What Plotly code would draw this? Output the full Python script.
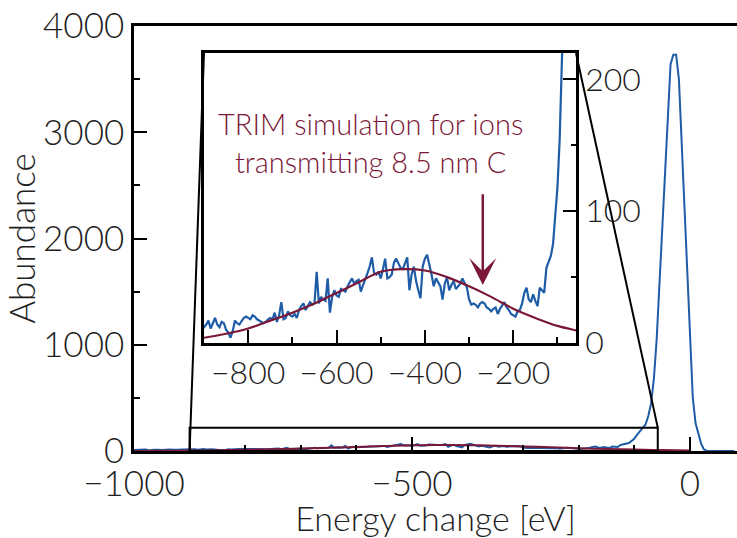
import plotly.graph_objects as go

# ---------------- data ----------------
# measured spectrum, 5 eV bins starting at -1000 eV
abund_a = [9, 12, 8, 11, 14, 10, 7, 12, 15, 11, 9, 13, 10, 14, 12, 8, 11, 13, 15, 10]          # -1000..-905
abund_b = [12, 14, 17, 11, 15, 19, 14, 12, 16, 15, 10, 8, 4, 9, 17, 15, 14, 17, 19, 20]        # -900..-805
abund_c = [19, 18, 21, 20, 18, 17, 16, 15, 16, 18, 19, 18, 23, 16, 21, 31, 18, 19, 24, 21]     # -800..-705
abund_d = [20, 22, 19, 25, 28, 30, 25, 28, 31, 29, 30, 54, 30, 35, 33, 32, 49, 23, 35, 40]     # -700..-605
abund_e = [36, 35, 41, 40, 39, 43, 46, 49, 45, 47, 48, 39, 44, 48, 53, 58, 65, 53, 52, 54]     # -600..-505
abund_f = [49, 56, 64, 49, 50, 52, 61, 64, 60, 57, 56, 60, 65, 40, 52, 58, 47, 40, 34, 58]     # -500..-405
abund_g = [64, 67, 60, 52, 43, 49, 46, 43, 33, 45, 50, 40, 44, 47, 41, 43, 45, 49, 46, 42]     # -400..-305
abund_h = [33, 29, 30, 29, 27, 30, 31, 30, 27, 26, 24, 26, 27, 22, 26, 29, 31, 27, 25, 22]     # -300..-205
abund_i = [21, 20, 24, 25, 30, 38, 42, 33, 31, 37, 32, 28, 42, 40, 38, 57, 62, 66, 75, 95]     # -200..-105
abund_j = [118, 154, 190, 218, 250, 330, 450, 680, 1050, 1560, 2080, 2650, 3200, 3640,
           3730, 3730, 3500, 2880, 2200, 1600]                                                 # -100..-5
abund_k = [1000, 500, 260, 150, 70, 15, 3, 0, 0, 0, 0, 0, 0, 0, 0, 0, 0]                       # 0..80

abundance = (abund_a + abund_b + abund_c + abund_d + abund_e + abund_f + abund_g
             + abund_h + abund_i + abund_j + abund_k)
energy = [-1000 + 5 * i for i in range(len(abundance))]

# TRIM simulation
trim_energy = [-1000, -950, -900, -850, -800, -750, -700, -650, -600, -550, -500,
               -450, -400, -350, -300, -250, -200, -150, -100, -50, 0]
trim_value = [1, 2, 4, 7, 11, 17, 23, 30, 38, 46, 54, 56, 55, 50, 43, 35, 26, 19, 13, 9, 5]

main_xticks = [-1000, -500, 0]
main_yticks = [0, 1000, 2000, 3000, 4000]
inset_xticks = [-800, -600, -400, -200]
inset_yticks = [0, 100, 200]

# ---------------- style ----------------
BLUE = "#1f5ca8"
MAROON = "#7b1838"
TXT = "#1e1e1e"
FONT = "Lato"
WEIGHT = 300

W, H = 737, 538
ML, MR, MT, MB = 134, 0, 26, 87
main_xrange = [-1000, 84.5]
main_yrange = [0, 4000]
inset_xrange = [-900, -58]
inset_yrange = [0, 220]
inset_xdom = [0.1161, 0.733]
inset_ydom = [0.2541, 0.9365]

fig = go.Figure()

fig.add_trace(go.Scatter(x=energy, y=abundance, mode="lines",
                         line=dict(color=BLUE, width=2), xaxis="x", yaxis="y",
                         showlegend=False))
fig.add_trace(go.Scatter(x=trim_energy, y=trim_value, mode="lines",
                         line=dict(color=MAROON, width=2, shape="spline"),
                         xaxis="x", yaxis="y", showlegend=False))
fig.add_trace(go.Scatter(x=energy, y=abundance, mode="lines",
                         line=dict(color=BLUE, width=2.2), xaxis="x2", yaxis="y2",
                         showlegend=False))
fig.add_trace(go.Scatter(x=trim_energy, y=trim_value, mode="lines",
                         line=dict(color=MAROON, width=2.2, shape="spline"),
                         xaxis="x2", yaxis="y2", showlegend=False))

axis_common = dict(showgrid=False, zeroline=False, linecolor="black",
                   tickcolor="black", ticks="inside")

def tf(size):
    return dict(size=size, family=FONT, weight=WEIGHT, color=TXT)

fig.update_layout(
    width=W, height=H,
    margin=dict(l=ML, r=MR, t=MT, b=MB),
    paper_bgcolor="white", plot_bgcolor="white",
    font=dict(family=FONT, color=TXT, size=34, weight=WEIGHT),
    xaxis=dict(**axis_common, range=main_xrange, domain=[0, 1],
               showline=True, linewidth=2.5, mirror=True,
               tickvals=main_xticks, ticktext=["\u22121000", "\u2212500", "0"],
               ticklen=14, tickwidth=1.5,
               tickfont=tf(35),
               minor=dict(ticks="inside", ticklen=6, dtick=100, tick0=0,
                          tickcolor="black", tickwidth=1.5),
               title=dict(text="Energy change [eV]", font=tf(34), standoff=7),
               anchor="y", automargin=False),
    yaxis=dict(**axis_common, range=main_yrange, domain=[0, 1],
               showline=True, linewidth=2.5, mirror=False,
               tickvals=main_yticks, ticklen=13, tickwidth=1.5,
               tickfont=tf(35),
               minor=dict(ticks="inside", ticklen=6, dtick=500, tick0=0,
                          tickcolor="black", tickwidth=1.5),
               title=dict(text="Abundance", font=tf(35), standoff=2),
               anchor="x", automargin=False),
    xaxis2=dict(**axis_common, range=inset_xrange, domain=inset_xdom,
                showline=True, linewidth=2.5, mirror=True,
                tickvals=inset_xticks,
                ticktext=["\u2212800", "\u2212600", "\u2212400", "\u2212200"],
                ticklen=13, tickwidth=1.5, tickfont=tf(32),
                minor=dict(ticks="inside", ticklen=6, dtick=100, tick0=0,
                           tickcolor="black", tickwidth=1.5),
                anchor="y2", automargin=False),
    yaxis2=dict(**axis_common, range=inset_yrange, domain=inset_ydom,
                showline=True, linewidth=2.5, mirror=True, side="right",
                tickvals=inset_yticks, ticklen=13, tickwidth=1.5,
                tickfont=tf(32),
                minor=dict(ticks="inside", ticklen=5, dtick=50, tick0=0,
                           tickcolor="black", tickwidth=1.5),
                anchor="x2", automargin=False),
)

def px_main(e):
    return (e - main_xrange[0]) / (main_xrange[1] - main_xrange[0])

def py_main(v):
    return (v - main_yrange[0]) / (main_yrange[1] - main_yrange[0])

shapes = [
    dict(type="rect", xref="x", yref="y", x0=inset_xrange[0], x1=inset_xrange[1],
         y0=inset_yrange[0], y1=inset_yrange[1], line=dict(color="black", width=2)),
    dict(type="line", xref="paper", yref="paper",
         x0=px_main(inset_xrange[0]), y0=py_main(inset_yrange[0]),
         x1=inset_xdom[0], y1=inset_ydom[1], line=dict(color="black", width=2)),
    dict(type="line", xref="paper", yref="paper",
         x0=px_main(inset_xrange[1]), y0=py_main(inset_yrange[1]),
         x1=inset_xdom[1], y1=inset_ydom[1], line=dict(color="black", width=2)),
]
fig.update_layout(shapes=shapes)

fig.add_annotation(x=-523, y=152, xref="x2", yref="y2",
                   text="TRIM simulation for ions<br>transmitting 8.5 nm C",
                   showarrow=False, align="center",
                   font=dict(size=29, color=MAROON, family=FONT, weight=WEIGHT))
fig.add_annotation(x=-269, y=44, xref="x2", yref="y2",
                   ax=-269, ay=114, axref="x2", ayref="y2",
                   text="", showarrow=True, arrowhead=3, arrowsize=1.8,
                   arrowwidth=2.5, arrowcolor=MAROON)

fig.write_html("out.html")
